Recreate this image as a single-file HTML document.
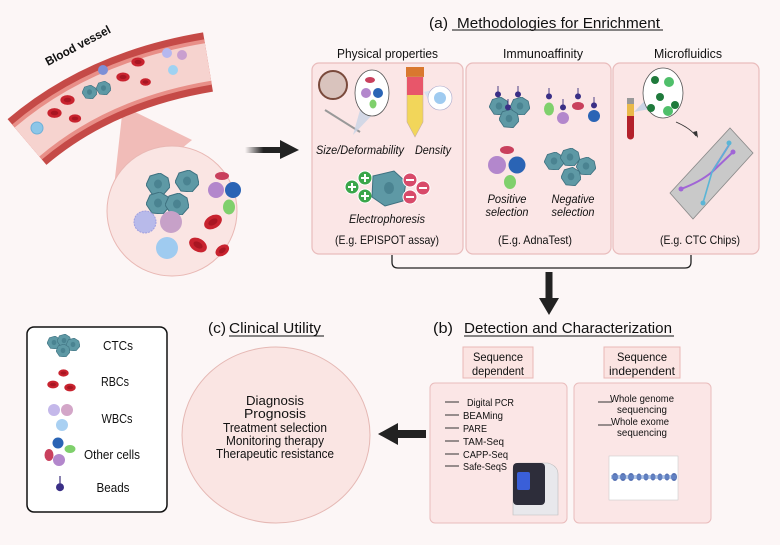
<!DOCTYPE html>
<html><head><meta charset="utf-8"><style>
html,body{margin:0;padding:0;background:#fcf6f6;}
svg{display:block;}
text{font-family:"Liberation Sans",sans-serif;fill:#111;}
</style></head><body>
<svg width="780" height="545" viewBox="0 0 780 545" xmlns="http://www.w3.org/2000/svg">
<defs>
<linearGradient id="ag" x1="0" x2="1"><stop offset="0" stop-color="#222" stop-opacity="0"/><stop offset="0.5" stop-color="#222"/></linearGradient>
<symbol id="ctc" viewBox="0 0 24 22"><path d="M4,3 L14,0 L22,5 L24,14 L17,22 L6,21 L0,12 Z" fill="#5e99a5" stroke="#3e7180" stroke-width="1"/><ellipse cx="12" cy="11" rx="4" ry="4.5" fill="#4a8391"/></symbol>
<symbol id="rbc" viewBox="0 0 20 14"><ellipse cx="10" cy="7" rx="9.5" ry="6.5" fill="#c8232f"/><ellipse cx="10" cy="7" rx="5" ry="3" fill="#a81622"/></symbol>
<symbol id="bead" viewBox="0 0 10 20"><line x1="5" y1="0" x2="5" y2="10" stroke="#3b2f7a" stroke-width="1.5"/><circle cx="5" cy="14" r="5" fill="#3a2f86"/></symbol>
</defs>
<rect width="780" height="545" fill="#fcf6f6"/>

<!-- magnifier cone -->
<path d="M123,106 L112,205 L192,140 Z" fill="#f1bcb8"/>

<!-- Blood vessel -->
<path d="M27,142 Q100,80 208,62" fill="none" stroke="#c54a47" stroke-width="60"/>
<path d="M27,142 Q100,80 208,62" fill="none" stroke="#e88f88" stroke-width="46"/>
<path d="M27,142 Q100,80 208,62" fill="none" stroke="#f6d3cf" stroke-width="38"/>
<text x="0" y="0" transform="translate(48,66) rotate(-28)" font-size="12" font-weight="bold" textLength="72" lengthAdjust="spacingAndGlyphs">Blood vessel</text>
<use href="#rbc" x="60" y="94" width="15" height="12"/>
<use href="#rbc" x="47" y="107" width="15" height="12"/>
<use href="#rbc" x="68" y="114" width="14" height="9"/>
<use href="#rbc" x="116" y="71" width="14" height="12"/>
<use href="#rbc" x="131" y="56" width="14" height="12"/>
<use href="#rbc" x="139" y="78" width="13" height="8"/>
<use href="#ctc" x="82" y="85" width="15" height="14"/>
<use href="#ctc" x="96" y="81" width="15" height="14"/>
<circle cx="37" cy="128" r="6" fill="#8cc6e8" stroke="#6fb0d8"/>
<circle cx="103" cy="70" r="5" fill="#7d8fd6"/>
<circle cx="167" cy="53" r="5" fill="#b6b8ef"/>
<circle cx="182" cy="55" r="5" fill="#c99fcf"/>
<circle cx="173" cy="70" r="5" fill="#9fd2f2"/>

<circle cx="172" cy="211" r="65" fill="#fae5e3" stroke="#e9b8b4"/>
<use href="#ctc" x="146" y="173" width="24" height="22"/>
<use href="#ctc" x="175" y="170" width="24" height="22"/>
<use href="#ctc" x="146" y="192" width="24" height="22"/>
<use href="#ctc" x="165" y="193" width="24" height="22"/>
<ellipse cx="222" cy="176" rx="7" ry="4" fill="#c9405d"/>
<circle cx="216" cy="190" r="8" fill="#b387cc"/>
<circle cx="233" cy="190" r="8" fill="#2a64b5"/>
<ellipse cx="229" cy="207" rx="6" ry="7.5" fill="#7fd06c"/>
<circle cx="145" cy="222" r="11" fill="#b8baea" stroke="#9f9fe0" stroke-dasharray="2 1"/>
<circle cx="171" cy="222" r="11" fill="#c7a1c8"/>
<circle cx="167" cy="248" r="11" fill="#9fcbf0"/>
<use href="#rbc" x="203" y="213" width="20" height="18" transform="rotate(-30 213 222)"/>
<use href="#rbc" x="188" y="237" width="20" height="16" transform="rotate(30 198 245)"/>
<use href="#rbc" x="213" y="245" width="18" height="11" transform="rotate(-35 222 250)"/>

<!-- arrow right -->
<rect x="245" y="147" width="37" height="6" fill="url(#ag)"/>
<path d="M280,140 L299,150 L280,159 Z" fill="#222"/>

<!-- (a) title -->
<text x="429" y="28" font-size="15" textLength="19" lengthAdjust="spacingAndGlyphs">(a)</text>
<text x="457" y="28" font-size="15" textLength="203" lengthAdjust="spacingAndGlyphs">Methodologies for Enrichment</text>
<line x1="452" y1="30" x2="663" y2="30" stroke="#111" stroke-width="1"/>
<text x="337" y="58" font-size="12.5" textLength="101" lengthAdjust="spacingAndGlyphs">Physical properties</text>
<text x="503" y="58" font-size="12.5" textLength="80" lengthAdjust="spacingAndGlyphs">Immunoaffinity</text>
<text x="654" y="58" font-size="12.5" textLength="68" lengthAdjust="spacingAndGlyphs">Microfluidics</text>

<!-- panels -->
<rect x="312" y="63" width="151" height="191" rx="7" fill="#fbe6e6" stroke="#e9bcbc" stroke-width="1.2"/>
<rect x="466" y="63" width="145" height="191" rx="7" fill="#fbe6e6" stroke="#e9bcbc" stroke-width="1.2"/>
<rect x="613" y="63" width="146" height="191" rx="7" fill="#fbe6e6" stroke="#e9bcbc" stroke-width="1.2"/>

<!-- physical -->
<circle cx="333" cy="85" r="14" fill="#d9c3bd" stroke="#7a4a3c" stroke-width="2"/>
<line x1="325" y1="110" x2="360" y2="132" stroke="#999" stroke-width="2"/>
<path d="M360,110 L353,135 L375,112 Z" fill="#c9d4e6" opacity="0.8"/>
<ellipse cx="372" cy="93" rx="17" ry="23" fill="#fff" stroke="#555" stroke-width="0.8"/>
<ellipse cx="370" cy="80" rx="5" ry="3" fill="#c9405d"/>
<circle cx="366" cy="93" r="5" fill="#b387cc"/>
<circle cx="378" cy="93" r="5" fill="#2a64b5"/>
<ellipse cx="373" cy="104" rx="3.5" ry="4.5" fill="#7fd06c"/>
<rect x="406" y="67" width="18" height="10" fill="#d9782f"/>
<path d="M407,77 L423,77 L423,122 L415,137 L407,122 Z" fill="#f2d65a" stroke="#c9b0a0" stroke-width="0.6"/>
<rect x="407" y="77" width="16" height="18" fill="#e8566a"/>
<path d="M424,92 L432,90 L432,106 Z" fill="#d8e2ee"/>
<circle cx="440" cy="98" r="12" fill="#fff" stroke="#aac" stroke-width="0.6"/>
<circle cx="440" cy="98" r="6" fill="#9fcbf0"/>
<text x="316" y="154" font-size="12" font-style="italic" textLength="88" lengthAdjust="spacingAndGlyphs">Size/Deformability</text>
<text x="415" y="154" font-size="12" font-style="italic" textLength="36" lengthAdjust="spacingAndGlyphs">Density</text>
<g fill="#3aa64a" stroke="#fff" stroke-width="1"><circle cx="352" cy="187" r="7"/><circle cx="365" cy="178" r="7"/><circle cx="365" cy="196" r="7"/></g>
<g stroke="#fff" stroke-width="2"><path d="M348,187h8M352,183v8M361,178h8M365,174v8M361,196h8M365,192v8"/></g>
<path d="M373,176 L394,171 L406,182 L403,201 L385,206 L372,197 Z" fill="#5e99a5" stroke="#3e7180"/>
<ellipse cx="389" cy="188" rx="5" ry="6" fill="#4a8391"/>
<g fill="#d84a6a" stroke="#fff" stroke-width="1"><circle cx="410" cy="180" r="7"/><circle cx="423" cy="188" r="7"/><circle cx="410" cy="197" r="7"/></g>
<g stroke="#fff" stroke-width="2"><path d="M406,180h8M419,188h8M406,197h8"/></g>
<text x="387" y="223" font-size="12" font-style="italic" text-anchor="middle" textLength="76" lengthAdjust="spacingAndGlyphs">Electrophoresis</text>
<text x="387" y="244" font-size="12" text-anchor="middle" textLength="104" lengthAdjust="spacingAndGlyphs">(E.g. EPISPOT assay)</text>

<!-- immuno -->
<use href="#ctc" x="489" y="97" width="20" height="18"/>
<use href="#ctc" x="510" y="97" width="20" height="18"/>
<use href="#ctc" x="499" y="109" width="20" height="19"/>
<use href="#bead" x="495" y="86" width="6" height="12"/>
<use href="#bead" x="515" y="86" width="6" height="12"/>
<use href="#bead" x="505" y="99" width="6" height="12"/>
<ellipse cx="549" cy="109" rx="5" ry="6.5" fill="#7fd06c"/>
<circle cx="563" cy="118" r="6" fill="#b387cc"/>
<ellipse cx="578" cy="106" rx="6" ry="4" fill="#c9405d"/>
<circle cx="594" cy="116" r="6" fill="#2a64b5"/>
<use href="#bead" x="546" y="88" width="6" height="12"/>
<use href="#bead" x="560" y="99" width="6" height="12"/>
<use href="#bead" x="575" y="88" width="6" height="12"/>
<use href="#bead" x="591" y="97" width="6" height="12"/>
<ellipse cx="507" cy="150" rx="7" ry="4" fill="#c9405d"/>
<circle cx="497" cy="165" r="9" fill="#b387cc"/>
<circle cx="517" cy="165" r="8.5" fill="#2a64b5"/>
<ellipse cx="510" cy="182" rx="6" ry="7" fill="#7fd06c"/>
<use href="#ctc" x="544" y="152" width="20" height="18"/>
<use href="#ctc" x="560" y="148" width="20" height="18"/>
<use href="#ctc" x="576" y="157" width="20" height="18"/>
<use href="#ctc" x="561" y="167" width="20" height="19"/>
<text x="507" y="203" font-size="12" font-style="italic" text-anchor="middle" textLength="39" lengthAdjust="spacingAndGlyphs">Positive</text>
<text x="507" y="216" font-size="12" font-style="italic" text-anchor="middle" textLength="43" lengthAdjust="spacingAndGlyphs">selection</text>
<text x="573" y="203" font-size="12" font-style="italic" text-anchor="middle" textLength="43" lengthAdjust="spacingAndGlyphs">Negative</text>
<text x="573" y="216" font-size="12" font-style="italic" text-anchor="middle" textLength="43" lengthAdjust="spacingAndGlyphs">selection</text>
<text x="535" y="244" font-size="12" text-anchor="middle" textLength="74" lengthAdjust="spacingAndGlyphs">(E.g. AdnaTest)</text>

<!-- micro -->
<rect x="627" y="98" width="7" height="6" fill="#999"/>
<path d="M627,104 h7 v32 a3.5,3.5 0 0 1 -7,0 Z" fill="#b3212b"/>
<rect x="627" y="104" width="7" height="12" fill="#e9b94a"/>
<path d="M634,112 L650,95 L655,108 Z" fill="#c5d2e4" opacity="0.9"/>
<ellipse cx="663" cy="93" rx="20" ry="25" fill="#fff" stroke="#555" stroke-width="0.8"/>
<g fill="#1f7a3c"><circle cx="655" cy="80" r="4"/><circle cx="660" cy="97" r="4"/><circle cx="675" cy="105" r="4"/><circle cx="651" cy="108" r="4"/></g>
<g fill="#4fbf6a"><circle cx="669" cy="82" r="5"/><circle cx="668" cy="111" r="5"/></g>
<path d="M676,122 Q690,128 696,136" fill="none" stroke="#333" stroke-width="0.8"/>
<path d="M693,132 L698,138 L697,131 Z" fill="#333"/>
<polygon points="670,193 730,128 753,153 693,219" fill="#c9c9c9" stroke="#888" stroke-width="0.8"/>
<path d="M681,189 Q700,182 712,172 L729,145" fill="none" stroke="#a065d6" stroke-width="2"/>
<path d="M711,173 L733,152" fill="none" stroke="#a065d6" stroke-width="2"/>
<path d="M729,145 L712,172 L703,203" fill="none" stroke="#5ab5d6" stroke-width="1.6"/>
<circle cx="681" cy="189" r="2.5" fill="#a065d6"/><circle cx="733" cy="152" r="2.5" fill="#a065d6"/>
<circle cx="729" cy="143" r="2.5" fill="#5ab5d6"/><circle cx="703" cy="203" r="2.5" fill="#5ab5d6"/>
<text x="700" y="244" font-size="12" text-anchor="middle" textLength="80" lengthAdjust="spacingAndGlyphs">(E.g. CTC Chips)</text>

<!-- bracket + down arrow -->
<path d="M392,255 V262 Q392,268 398,268 H685 Q691,268 691,262 V255" fill="none" stroke="#222" stroke-width="1.3"/>
<rect x="545.5" y="272" width="7" height="28" fill="#222"/>
<path d="M539,298 L559,298 L549,315 Z" fill="#222"/>

<!-- (b) -->
<text x="433" y="333" font-size="15" textLength="20" lengthAdjust="spacingAndGlyphs">(b)</text>
<text x="464" y="333" font-size="15" textLength="208" lengthAdjust="spacingAndGlyphs">Detection and Characterization</text>
<line x1="464" y1="336" x2="674" y2="336" stroke="#111" stroke-width="1"/>
<rect x="463" y="347" width="70" height="31" fill="#fbe4e2" stroke="#eab8b5"/>
<text x="498" y="361" font-size="12" text-anchor="middle" textLength="50" lengthAdjust="spacingAndGlyphs">Sequence</text>
<text x="498" y="375" font-size="12" text-anchor="middle" textLength="52" lengthAdjust="spacingAndGlyphs">dependent</text>
<rect x="604" y="347" width="76" height="31" fill="#fbe4e2" stroke="#eab8b5"/>
<text x="642" y="361" font-size="12" text-anchor="middle" textLength="50" lengthAdjust="spacingAndGlyphs">Sequence</text>
<text x="642" y="375" font-size="12" text-anchor="middle" textLength="66" lengthAdjust="spacingAndGlyphs">independent</text>
<rect x="430" y="383" width="137" height="140" rx="5" fill="#fbe6e6" stroke="#e9bcbc"/>
<rect x="574" y="383" width="137" height="140" rx="5" fill="#fbe6e6" stroke="#e9bcbc"/>
<g stroke="#333" stroke-width="1"><path d="M445,402h14M445,415h14M445,428h14M445,441h14M445,454h14M445,466h14"/></g>
<g font-size="10.5">
<text x="467" y="406" textLength="47" lengthAdjust="spacingAndGlyphs">Digital PCR</text>
<text x="463" y="419" textLength="40" lengthAdjust="spacingAndGlyphs">BEAMing</text>
<text x="463" y="432" textLength="24" lengthAdjust="spacingAndGlyphs">PARE</text>
<text x="463" y="445" textLength="41" lengthAdjust="spacingAndGlyphs">TAM-Seq</text>
<text x="463" y="458" textLength="45" lengthAdjust="spacingAndGlyphs">CAPP-Seq</text>
<text x="463" y="470" textLength="44" lengthAdjust="spacingAndGlyphs">Safe-SeqS</text>
</g>
<!-- machine -->
<path d="M513,470 Q513,463 520,463 L548,463 Q558,466 558,474 L558,515 L513,515 Z" fill="#e8e8ec" stroke="#bbb" stroke-width="0.6"/>
<rect x="513" y="463" width="32" height="42" rx="4" fill="#2d2d3a"/>
<rect x="517" y="472" width="13" height="18" rx="2" fill="#3a5fd8"/>
<g stroke="#333" stroke-width="1"><path d="M598,402h14M598,425h14"/></g>
<g font-size="10.5" text-anchor="middle">
<text x="642" y="402" textLength="64" lengthAdjust="spacingAndGlyphs">Whole genome</text>
<text x="642" y="413" textLength="50" lengthAdjust="spacingAndGlyphs">sequencing</text>
<text x="640" y="425" textLength="58" lengthAdjust="spacingAndGlyphs">Whole exome</text>
<text x="642" y="436" textLength="50" lengthAdjust="spacingAndGlyphs">sequencing</text>
</g>
<rect x="609" y="456" width="69" height="44" fill="#fff" stroke="#ccc" stroke-width="0.6"/>
<g fill="#3b5ba8" opacity="0.85">
<ellipse cx="615" cy="477" rx="3" ry="4"/><ellipse cx="623" cy="477" rx="3" ry="4"/><ellipse cx="631" cy="477" rx="3" ry="4"/><ellipse cx="639" cy="477" rx="2.5" ry="3.5"/><ellipse cx="646" cy="477" rx="2.5" ry="3.5"/><ellipse cx="653" cy="477" rx="2.5" ry="3.5"/><ellipse cx="660" cy="477" rx="2.5" ry="3.5"/><ellipse cx="667" cy="477" rx="2.5" ry="3.5"/><ellipse cx="674" cy="477" rx="3" ry="4"/>
</g>
<rect x="611" y="475" width="65" height="4" fill="#6a8fd0" opacity="0.5"/>

<!-- left arrow -->
<rect x="396" y="430" width="30" height="8" fill="#222"/>
<path d="M398,423 L378,434 L398,445 Z" fill="#222"/>

<!-- (c) -->
<text x="208" y="333" font-size="15" textLength="18" lengthAdjust="spacingAndGlyphs">(c)</text>
<text x="229" y="333" font-size="15" textLength="92" lengthAdjust="spacingAndGlyphs">Clinical Utility</text>
<line x1="229" y1="336" x2="324" y2="336" stroke="#111" stroke-width="1"/>
<ellipse cx="276" cy="435" rx="94" ry="88" fill="#fae5e3" stroke="#e5b8b4"/>
<g font-size="13" text-anchor="middle">
<text x="275" y="405" textLength="58" lengthAdjust="spacingAndGlyphs">Diagnosis</text>
<text x="275" y="418" textLength="62" lengthAdjust="spacingAndGlyphs">Prognosis</text>
<text x="275" y="432" textLength="104" lengthAdjust="spacingAndGlyphs">Treatment selection</text>
<text x="275" y="445" textLength="98" lengthAdjust="spacingAndGlyphs">Monitoring therapy</text>
<text x="275" y="458" textLength="118" lengthAdjust="spacingAndGlyphs">Therapeutic resistance</text>
</g>

<!-- legend -->
<rect x="27" y="327" width="140" height="185" rx="7" fill="#fff" stroke="#111" stroke-width="1.5"/>
<use href="#ctc" x="47" y="336" width="14" height="13"/>
<use href="#ctc" x="57" y="334" width="14" height="13"/>
<use href="#ctc" x="66" y="338" width="14" height="13"/>
<use href="#ctc" x="56" y="344" width="14" height="13"/>
<use href="#rbc" x="58" y="368" width="11" height="10"/>
<use href="#rbc" x="47" y="380" width="12" height="9"/>
<use href="#rbc" x="64" y="383" width="12" height="9"/>
<circle cx="54" cy="410" r="6" fill="#c4b8ea"/>
<circle cx="67" cy="410" r="6" fill="#d3a6c8"/>
<circle cx="62" cy="425" r="6" fill="#a9d0f2"/>
<circle cx="58" cy="443" r="5.5" fill="#2a64b5"/>
<ellipse cx="70" cy="449" rx="5.5" ry="4" fill="#7fd06c"/>
<ellipse cx="49" cy="455" rx="4.5" ry="6" fill="#c9405d"/>
<circle cx="59" cy="460" r="6" fill="#b387cc"/>
<use href="#bead" x="56" y="475" width="8" height="18"/>
<g font-size="12.5" text-anchor="middle">
<text x="118" y="350" textLength="30" lengthAdjust="spacingAndGlyphs">CTCs</text>
<text x="115" y="386" textLength="28" lengthAdjust="spacingAndGlyphs">RBCs</text>
<text x="117" y="423" textLength="31" lengthAdjust="spacingAndGlyphs">WBCs</text>
<text x="112" y="459" textLength="56" lengthAdjust="spacingAndGlyphs">Other cells</text>
<text x="113" y="492" textLength="33" lengthAdjust="spacingAndGlyphs">Beads</text>
</g>
</svg>
</body></html>
